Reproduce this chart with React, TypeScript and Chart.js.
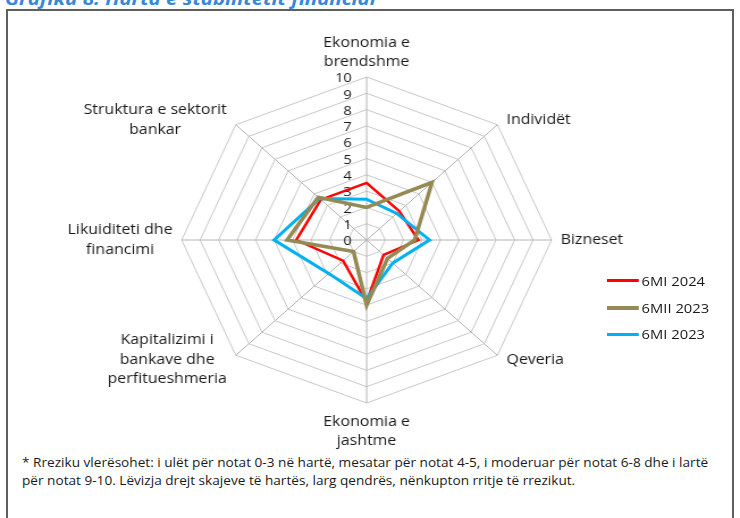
import React, { useEffect, useRef } from "react";
import { Chart, registerables } from "chart.js";

Chart.register(...registerables);

// ---------- data ----------
const CATEGORIES: string[][] = [
  ["Ekonomia e", "brendshme"],
  ["Individët"],
  ["Bizneset"],
  ["Qeveria"],
  ["Ekonomia e", "jashtme"],
  ["Kapitalizimi i", "bankave dhe", "perfitueshmeria"],
  ["Likuiditeti dhe", "financimi"],
  ["Struktura e sektorit", "bankar"],
];
const SERIES_NAMES = ["6MI 2024", "6MII 2023", "6MI 2023"];
const VALUES_6MI_2024 = [3.5, 2.5, 2.8, 1.3, 3.8, 1.8, 3.8, 3.5];
const VALUES_6MII_2023 = [2.0, 5.0, 2.6, 1.6, 4.0, 1.0, 4.3, 3.7];
const VALUES_6MI_2023 = [2.5, 2.3, 3.4, 2.0, 3.6, 2.9, 5.0, 3.6];
const TICK_VALUES = [0, 1, 2, 3, 4, 5, 6, 7, 8, 9, 10];
const TICK_LABELS = ["0", "1", "2", "3", "4", "5", "6", "7", "8", "9", "10"];
const TITLE = "Grafiku 8: Harta e stabilitetit financiar";
const NOTE_LINES = [
  "* Rreziku vlerësohet: i ulët për notat 0-3 në hartë, mesatar për notat 4-5, i moderuar për notat 6-8 dhe i lartë",
  "për notat 9-10. Lëvizja drejt skajeve të hartës, larg qendrës, nënkupton rritje të rrezikut.",
];

// ---------- style ----------
const CANVAS_W = 652;
const CANVAS_H = 442;
const CSS_W = 740;
const STRETCH = CSS_W / CANVAS_W;
const SERIES_COLORS = ["#FF0000", "#948A54", "#00B0F0"];
const SERIES_WIDTHS = [2.5, 3.5, 3];
const SERIES_ORDER = [2, 0, 1];
const LEGEND_THICK = [3, 4, 3];
const FONT = '"Open Sans", "DejaVu Sans", sans-serif';
const TEXT_COLOR = "#1a1a1a";
const LABEL_SIZE = 14;
const LINE_H = 19.5;
const TICK_SIZE = 13;
const GAP_SIDE = 8;
const SIDE_SHIFT = 6.4;
const GAP_TOP = 5;
const GAP_BOTTOM = 9;
const TICK_GAP = 13;

const labelPlugin = {
  id: "radarTexts",
  beforeDatasetsDraw(chart: any) {
    const scale = chart.scales.r;
    const ctx: CanvasRenderingContext2D = chart.ctx;
    const cx = scale.xCenter;
    const cy = scale.yCenter;
    const R = scale.drawingArea;
    ctx.save();
    ctx.fillStyle = TEXT_COLOR;
    ctx.textBaseline = "middle";
    ctx.textAlign = "center";
    ctx.font = `${LABEL_SIZE}px ${FONT}`;
    CATEGORIES.forEach((lines, i) => {
      const p = scale.getPointPosition(i, R);
      const ux = (p.x - cx) / R;
      const uy = (p.y - cy) / R;
      const bw = Math.max(...lines.map((l) => ctx.measureText(l).width));
      const bh = lines.length * LINE_H;
      let centerX: number;
      let firstY: number;
      if (Math.abs(ux) < 0.01) {
        centerX = p.x;
        firstY = uy < 0 ? p.y - GAP_TOP - bh + LINE_H / 2 : p.y + GAP_BOTTOM + LINE_H / 2;
      } else {
        centerX = ux > 0 ? p.x + GAP_SIDE + bw / 2 : p.x - GAP_SIDE - bw / 2;
        firstY = p.y + uy * SIDE_SHIFT - bh / 2 + LINE_H / 2;
      }
      lines.forEach((l, k) => ctx.fillText(l, centerX, firstY + k * LINE_H));
    });
    ctx.font = `${TICK_SIZE}px ${FONT}`;
    ctx.textAlign = "right";
    TICK_VALUES.forEach((v, k) => {
      const d = scale.getDistanceFromCenterForValue(v);
      ctx.fillText(TICK_LABELS[k], cx - TICK_GAP, cy - d + 1.5);
    });
    ctx.restore();
  },
};

export default function App() {
  const ref = useRef<HTMLCanvasElement | null>(null);

  useEffect(() => {
    if (!ref.current) return;
    const seriesValues = [VALUES_6MI_2024, VALUES_6MII_2023, VALUES_6MI_2023];
    const chart = new Chart(ref.current, {
      type: "radar",
      data: {
        labels: CATEGORIES,
        datasets: SERIES_NAMES.map((name, i) => ({
          label: name,
          data: seriesValues[i],
          borderColor: SERIES_COLORS[i],
          backgroundColor: SERIES_COLORS[i],
          borderWidth: SERIES_WIDTHS[i],
          fill: false,
          pointRadius: 0,
          pointHoverRadius: 0,
          order: SERIES_ORDER[i],
        })),
      },
      options: {
        responsive: false,
        animation: false,
        devicePixelRatio: 1,
        events: [],
        layout: { padding: { left: 0, right: 5, top: 65, bottom: 51 } },
        plugins: { legend: { display: false }, tooltip: { enabled: false } },
        elements: { line: { tension: 0, borderJoinStyle: "miter" } },
        scales: {
          r: {
            min: 0,
            max: 10,
            startAngle: 0,
            ticks: { display: false, stepSize: 1 },
            pointLabels: { display: false },
            grid: { color: "#C8C8C8", lineWidth: 1 },
            angleLines: { color: "#B4B4B4", lineWidth: 1 },
          },
        },
      } as any,
      plugins: [labelPlugin as any],
    });
    return () => chart.destroy();
  }, []);

  return (
    <div
      style={{
        position: "absolute",
        left: 0,
        top: 0,
        width: 740,
        height: 518,
        overflow: "hidden",
        background: "#fff",
        fontFamily: FONT,
      }}
    >
      <div
        style={{
          position: "absolute",
          left: 5,
          top: -12,
          fontSize: 18,
          lineHeight: "20px",
          fontStyle: "italic",
          fontWeight: 700,
          color: "#3389DA",
          whiteSpace: "nowrap",
          transform: `scaleX(${STRETCH})`,
          transformOrigin: "0 0",
        }}
      >
        {TITLE}
      </div>
      <div
        style={{
          position: "absolute",
          left: 6,
          top: 9,
          width: 728,
          height: 530,
          boxSizing: "border-box",
          border: "2px solid #5f5f5f",
        }}
      />
      <canvas
        ref={ref}
        width={CANVAS_W}
        height={CANVAS_H}
        style={{ position: "absolute", left: 0, top: 12, width: CSS_W, height: CANVAS_H }}
      />
      <div
        style={{
          position: "absolute",
          left: 607,
          top: 267.6,
          transform: `scaleX(${STRETCH})`,
          transformOrigin: "0 0",
        }}
      >
        {SERIES_NAMES.map((name, i) => (
          <div key={name} style={{ display: "flex", alignItems: "center", height: 26.7 }}>
            <span
              style={{
                display: "inline-block",
                width: 28,
                height: LEGEND_THICK[i],
                background: SERIES_COLORS[i],
              }}
            />
            <span style={{ marginLeft: 2.5, fontSize: 13, lineHeight: "16px", color: TEXT_COLOR, whiteSpace: "nowrap" }}>
              {name}
            </span>
          </div>
        ))}
      </div>
      <div
        style={{
          position: "absolute",
          left: 22,
          top: 454,
          fontSize: 12,
          lineHeight: "18px",
          color: TEXT_COLOR,
          whiteSpace: "nowrap",
          transform: `scaleX(${STRETCH})`,
          transformOrigin: "0 0",
        }}
      >
        {NOTE_LINES.map((l) => (
          <div key={l}>{l}</div>
        ))}
      </div>
    </div>
  );
}
